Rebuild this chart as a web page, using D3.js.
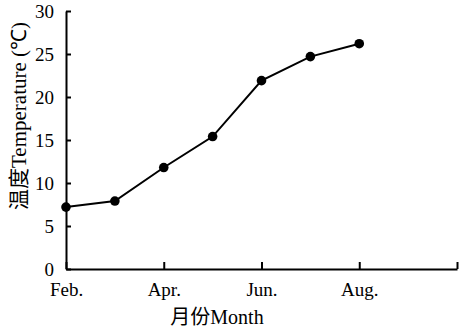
<!DOCTYPE html>
<html>
<head>
<meta charset="utf-8">
<script src="https://cdn.jsdelivr.net/npm/d3@7"></script>
<style>
  html, body { margin: 0; padding: 0; background: #fff; }
  svg { display: block; }
</style>
</head>
<body>
<svg id="chart" width="459" height="330"></svg>
<script>
// Monthly mean temperature, Feb. to Aug.
const months = ["Feb.", "Mar.", "Apr.", "May", "Jun.", "Jul.", "Aug."];
const temps = [7.2, 7.9, 11.8, 15.4, 21.9, 24.7, 26.2];

// Axis ticks
const xTickIndex = [0, 2, 4, 6, 8];
const xTickLabels = ["Feb.", "Apr.", "Jun.", "Aug.", ""];
const yTicks = [0, 5, 10, 15, 20, 25, 30];

const svg = d3.select("#chart");
const plotLeft = 66, plotRight = 457, plotTop = 11, plotBottom = 269;

const x = d3.scaleLinear().domain([0, 8]).range([plotLeft, plotRight]);
const y = d3.scaleLinear().domain([0, 30]).range([plotBottom, plotTop]);

const fontSerif = '"Liberation Serif", "Times New Roman", serif';
const fontCJK = '"Noto Sans CJK SC", sans-serif';

// X axis: ticks point inward
const xAxis = svg.append("g")
  .attr("transform", `translate(0,${plotBottom})`)
  .call(d3.axisBottom(x)
    .tickValues(xTickIndex)
    .tickFormat((d, i) => xTickLabels[i])
    .tickSizeInner(-7)
    .tickSizeOuter(0)
    .tickPadding(14));
xAxis.select(".domain").attr("stroke", "#000").attr("stroke-width", 2);
xAxis.selectAll(".tick line").attr("stroke", "#000").attr("stroke-width", 2);
xAxis.selectAll(".tick text")
  .attr("font-size", 19)
  .attr("fill", "#000")
  .attr("font-family", fontSerif);

// Y axis: ticks point inward
const yAxis = svg.append("g")
  .attr("transform", `translate(${plotLeft},0)`)
  .call(d3.axisLeft(y)
    .tickValues(yTicks)
    .tickFormat(d3.format("d"))
    .tickSizeInner(-5)
    .tickSizeOuter(0)
    .tickPadding(12));
yAxis.select(".domain").attr("stroke", "#000").attr("stroke-width", 2);
yAxis.selectAll(".tick line").attr("stroke", "#000").attr("stroke-width", 2);
yAxis.selectAll(".tick text")
  .attr("font-size", 19)
  .attr("fill", "#000")
  .attr("font-family", fontSerif);

// Temperature line
const line = d3.line()
  .x((d, i) => x(i))
  .y(d => y(d));

svg.append("path")
  .datum(temps)
  .attr("d", line)
  .attr("fill", "none")
  .attr("stroke", "#000")
  .attr("stroke-width", 2);

svg.selectAll("circle.pt")
  .data(temps)
  .join("circle")
  .attr("class", "pt")
  .attr("cx", (d, i) => x(i))
  .attr("cy", d => y(d))
  .attr("r", 4.8)
  .attr("fill", "#000");

// Axis titles
const xTitle = svg.append("text")
  .attr("x", 217)
  .attr("y", 324)
  .attr("text-anchor", "middle")
  .attr("font-size", 20)
  .attr("fill", "#000");
xTitle.append("tspan").attr("font-family", fontCJK).attr("fill", "#000").text("月份");
xTitle.append("tspan").attr("font-family", fontSerif).attr("fill", "#000").text("Month");

const yTitle = svg.append("text")
  .attr("transform", "translate(26,116) rotate(-90)")
  .attr("text-anchor", "middle")
  .attr("font-size", 21)
  .attr("fill", "#000");
yTitle.append("tspan").attr("font-family", fontCJK).attr("fill", "#000").text("温度");
yTitle.append("tspan").attr("font-family", fontSerif).attr("fill", "#000").text("Temperature (℃)");
</script>
</body>
</html>
